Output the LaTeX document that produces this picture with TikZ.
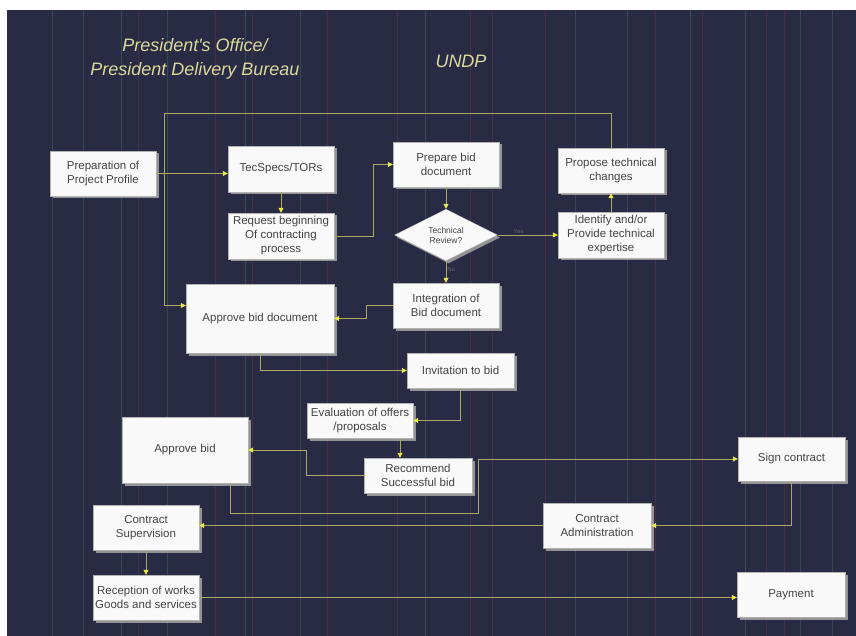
\documentclass[tikz,border=0pt]{standalone}
\usepackage{fontspec}
\newfontfamily\boxfont{Liberation Sans}
\usepackage{tikz}
\usetikzlibrary{arrows.meta,shapes.geometric,shadows,calc}

\definecolor{bgnavy}{HTML}{292A43}
\definecolor{flowline}{HTML}{AAAA5E}
\definecolor{tipyellow}{HTML}{E8E84C}
\definecolor{titlecol}{HTML}{DADA9C}
\definecolor{boxtext}{HTML}{444444}
\definecolor{stripeg}{HTML}{3F6B5C}
\definecolor{striper}{HTML}{6E3049}

\begin{document}
\begin{tikzpicture}[x=1pt, y=-1pt,
    stepbox/.style={draw=gray!60, fill=white!95!gray, text=boxtext, align=center,
        font=\boxfont\fontsize{11.5}{14}\selectfont, inner sep=0pt,
        minimum width=106pt, minimum height=45pt,
        drop shadow={shadow xshift=2.5pt, shadow yshift=-2.5pt, fill=gray!75, opacity=0.9}},
    decision/.style={diamond, draw=gray!60, fill=white!95!gray, text=boxtext, align=center,
        font=\boxfont\fontsize{8.5}{10}\selectfont, inner sep=0pt,
        minimum width=103pt, minimum height=44pt,
        drop shadow={shadow xshift=2.5pt, shadow yshift=-2.5pt, fill=gray!75, opacity=0.9}},
    flow/.style={draw=flowline, line width=0.8pt, -{Triangle[length=5pt, width=5pt, color=tipyellow]}},
    flowtag/.style={font=\boxfont\fontsize{6}{7}\selectfont, text=gray!70!bgnavy, inner sep=1pt},
    heading/.style={font=\boxfont\itshape\fontsize{18}{21}\selectfont, text=titlecol, inner sep=0pt}]

    % sheet
    \useasboundingbox (0,0) rectangle (856,636);
    \fill[white] (0,0) rectangle (856,636);
    \fill[bgnavy] (7,10) rectangle (856,636);
    \foreach \sx in {52,83,121,167,245,300,425,575,627,690,745,800,832}
        \draw[stripeg, line width=0.9pt, opacity=0.5] (\sx,10) -- (\sx,636);
    \foreach \sx in {138,215,252,327,397,470,492,545,655,702,766,784}
        \draw[striper, line width=0.9pt, opacity=0.5] (\sx,10) -- (\sx,636);

    % headings
    \node[heading] (office) at (195,45) {President's Office/};
    \node[heading] (bureau) at (195,71) {President Delivery Bureau};
    \node[heading] (undp) at (461,61) {UNDP};

    % steps
    \node[stepbox] (prep) at (103,173.5) {Preparation of\\Project Profile};
    \node[stepbox, minimum height=46pt] (tecspecs) at (281,169) {TecSpecs/TORs};
    \node[stepbox, minimum height=46pt] (request) at (281,236) {Request beginning\\Of contracting\\process};
    \node[stepbox] (prepbid) at (446,164.5) {Prepare bid\\document};
    \node[decision] (review) at (446,235) {Technical\\Review?};
    \node[stepbox] (propose) at (611,170.5) {Propose technical\\changes};
    \node[stepbox, minimum height=46pt] (identify) at (611,235) {Identify and/or\\Provide technical\\expertise};
    \node[stepbox] (integ) at (446,305.5) {Integration of\\Bid document};
    \node[stepbox, minimum width=148pt, minimum height=69pt] (approvedoc) at (260,318.5) {Approve bid document};
    \node[stepbox, minimum width=107pt, minimum height=35pt] (invite) at (460.5,370.5) {Invitation to bid};
    \node[stepbox, minimum height=35pt] (evaluate) at (360,420.5) {Evaluation of offers\\/proposals};
    \node[stepbox, minimum width=108pt, minimum height=35pt] (recommend) at (418,475.5) {Recommend\\Successful bid};
    \node[stepbox, minimum width=126pt, minimum height=66pt] (approvebid) at (185,450) {Approve bid};
    \node[stepbox, minimum width=107pt, minimum height=44pt] (sign) at (791.5,459) {Sign contract};
    \node[stepbox, minimum width=108pt] (admin) at (597,525.5) {Contract\\Administration};
    \node[stepbox] (supervise) at (146,527.5) {Contract\\Supervision};
    \node[stepbox] (reception) at (146,597.5) {Reception of works\\Goods and services};
    \node[stepbox, minimum width=108pt] (payment) at (791,594.5) {Payment};

    \coordinate (loop) at (164,113);
    \coordinate (turn) at (478,513);

    % flow
    \draw[flow] (prep.east) -- (prep.east -| tecspecs.west);
    \draw[flow] (tecspecs.south) -- (request.north);
    \draw[flow] (request.east) -- ++(39,0) |- (prepbid.west);
    \draw[flow] (prepbid.south) -- (review.north);
    \draw[flow] (review.east) -- node[flowtag, above, pos=0.35] (yes) {Yes} (identify.west);
    \draw[flow] (review.south) -- node[flowtag, right, pos=0.4] (no) {No} (integ.north);
    \draw[flow] (identify.north) -- (propose.south);
    \draw[flow] (propose.north) |- (loop) |- ([yshift=13pt]approvedoc.west);
    \draw[flow] (integ.west) -- ++(-26,0) |- (approvedoc.east);
    \draw[flow] (approvedoc.south) |- (invite.west);
    \draw[flow] (invite.south) |- (evaluate.east);
    \draw[flow] ([xshift=40pt]evaluate.south) -- ([xshift=40pt]evaluate.south |- recommend.north);
    \draw[flow] (recommend.west) -- ++(-57,0) |- (approvebid.east);
    \draw[flow] ([xshift=45pt]approvebid.south) |- (turn) |- (sign.west);
    \draw[flow] (sign.south) |- (admin.east);
    \draw[flow] (admin.west) -- (admin.west -| supervise.east);
    \draw[flow] (supervise.south) -- (reception.north);
    \draw[flow] (reception.east) -- (reception.east -| payment.west);
\end{tikzpicture}
\end{document}
